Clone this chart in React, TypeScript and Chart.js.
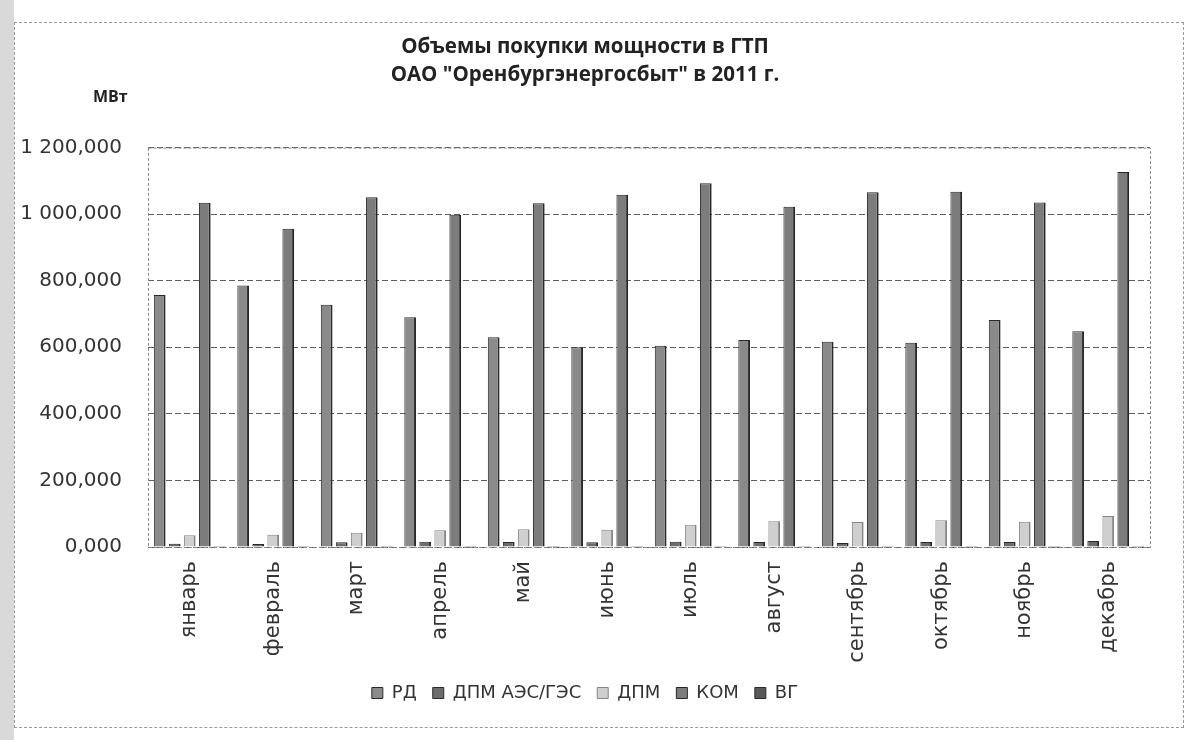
import React, { useEffect, useRef } from "react";
import { Chart, registerables } from "chart.js";

Chart.register(...registerables);

const months = ["январь", "февраль", "март", "апрель", "май", "июнь", "июль", "август", "сентябрь", "октябрь", "ноябрь", "декабрь"];
const seriesNames = ["РД", "ДПМ АЭС/ГЭС", "ДПМ", "КОМ", "ВГ"];
const rdValues = [757, 786, 728, 690, 630, 600, 605, 622, 617, 614, 682, 648];
const dpmAesValues = [10, 9, 14, 16, 15, 14, 16, 15, 12, 15, 15, 18];
const dpmValues = [35, 37, 43, 50, 53, 52, 67, 77, 75, 80, 76, 93];
const komValues = [1034, 956, 1051, 998, 1033, 1058, 1093, 1022, 1066, 1067, 1035, 1127];
const vgValues = [3, 3, 3, 3, 3, 3, 3, 3, 3, 3, 3, 3];
const yTickLabels = ["0,000", "200,000", "400,000", "600,000", "800,000", "1 000,000", "1 200,000"];
const titleLines = ["Объемы покупки мощности в ГТП", "ОАО \"Оренбургэнергосбыт\" в 2011 г."];
const unitLabel = "МВт";

const fills = ["#8a8a8a", "#6c6c6c", "#cfcfcf", "#7c7c7c", "#585858"];
const borders = ["#2a2a2a", "#2a2a2a", "#858585", "#262626", "#2a2a2a"];

export default function App() {
  const ref = useRef<HTMLCanvasElement | null>(null);

  useEffect(() => {
    if (!ref.current) return;
    const values = [rdValues, dpmAesValues, dpmValues, komValues, vgValues];
    const framePlugin = {
      id: "frame",
      afterDraw(chart: any) {
        const { ctx, chartArea } = chart;
        ctx.save();
        ctx.strokeStyle = "#8a8a8a";
        ctx.lineWidth = 1;
        ctx.setLineDash([3, 2]);
        ctx.strokeRect(chartArea.left + 0.5, chartArea.top + 0.5, chartArea.right - chartArea.left, chartArea.bottom - chartArea.top);
        ctx.setLineDash([]);
        ctx.fillStyle = "#222";
        ctx.font = "bold 16px 'Open Sans'";
        ctx.textAlign = "left";
        ctx.textBaseline = "middle";
        ctx.fillText(unitLabel, 93, 97);
        ctx.restore();
      },
    };
    const chart = new Chart(ref.current, {
      type: "bar",
      data: {
        labels: months,
        datasets: seriesNames.map((name, i) => ({
          label: name,
          data: values[i],
          backgroundColor: fills[i],
          borderColor: borders[i],
          borderWidth: { left: 1, right: 2, top: 1, bottom: 0 },
          categoryPercentage: 0.9,
          barPercentage: 0.78,
        })),
      },
      options: {
        animation: false,
        responsive: false,
        maintainAspectRatio: false,
        layout: { padding: { left: 20, right: 50, top: 0, bottom: 28 } },
        plugins: {
          title: {
            display: true,
            text: titleLines,
            color: "#222",
            font: { family: "'Open Sans'", size: 20.5, weight: "bold", lineHeight: 1.38 },
            padding: { top: 33, bottom: 58 },
          },
          legend: {
            display: true,
            position: "bottom",
            labels: {
              color: "#333",
              font: { family: "'DejaVu Sans'", size: 18 },
              boxWidth: 11,
              boxHeight: 11,
              padding: 16,
            },
          },
          tooltip: { enabled: false },
        },
        scales: {
          x: {
            grid: { display: false, drawTicks: false },
            border: { display: false },
            ticks: {
              autoSkip: false,
              minRotation: 90,
              maxRotation: 90,
              padding: 14,
              color: "#333",
              font: { family: "'DejaVu Sans'", size: 21 },
            },
            afterFit(scale: any) {
              scale.height = 121;
            },
          },
          y: {
            min: 0,
            max: 1200,
            ticks: {
              stepSize: 200,
              padding: 26,
              color: "#333",
              font: { family: "'DejaVu Sans'", size: 20 },
              callback: (_v: any, i: number) => yTickLabels[i],
            },
            grid: { color: "#5e5e5e", lineWidth: 1, drawTicks: false },
            border: { display: false, dash: [6, 3] },
            afterFit(scale: any) {
              scale.width = 128;
            },
          },
        },
      },
      plugins: [framePlugin],
    } as any);
    (chart.options.scales as any).y.grid.borderDash = [6, 3];
    chart.update();
    return () => chart.destroy();
  }, []);

  return (
    <div style={{ position: "fixed", left: 0, top: 0, width: 1200, height: 740, background: "#fff", overflow: "hidden" }}>
      <div style={{ position: "absolute", left: 0, top: 0, width: 14, height: 740, background: "#d9d9d9" }} />
      <div style={{ position: "absolute", left: 14, top: 22, width: 1168, height: 704, border: "1px dashed #9a9a9a" }} />
      <canvas ref={ref} width={1200} height={740} style={{ position: "absolute", left: 0, top: 0, width: 1200, height: 740 }} />
    </div>
  );
}
